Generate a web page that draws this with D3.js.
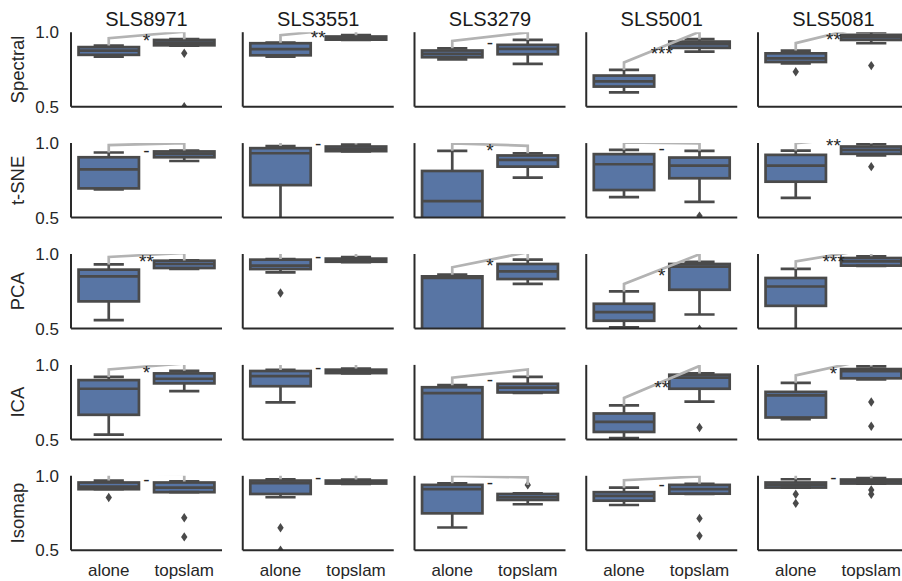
<!DOCTYPE html>
<html><head><meta charset="utf-8">
<script src="https://cdn.jsdelivr.net/npm/d3@7"></script>
<style>body{margin:0;background:#fff}svg{display:block;font-family:"Liberation Sans",Arial,sans-serif}</style>
</head><body><svg id="c" width="902" height="581"></svg>
<script>
const methods = ["Spectral", "t-SNE", "PCA", "ICA", "Isomap"];
const cells = ["SLS8971", "SLS3551", "SLS3279", "SLS5001", "SLS5081"];
const groups = ["alone", "topslam"];
const yTicks = [0.5, 1.0];

// box stats per method (rows) and cell (cols): [lowWhisker, q1, median, q3, highWhisker]
const aloneBoxes = [
  [[0.836,0.848,0.876,0.900,0.910],[0.836,0.845,0.886,0.926,0.930],[0.818,0.832,0.854,0.877,0.892],[0.596,0.635,0.670,0.709,0.747],[0.790,0.800,0.825,0.858,0.877]],
  [[0.689,0.696,0.824,0.905,0.937],[0.480,0.718,0.932,0.966,0.980],[0.350,0.420,0.610,0.813,0.948],[0.637,0.685,0.858,0.926,0.955],[0.633,0.741,0.849,0.921,0.950]],
  [[0.556,0.682,0.850,0.895,0.930],[0.877,0.899,0.922,0.962,0.966],[0.300,0.400,0.840,0.850,0.861],[0.507,0.552,0.610,0.666,0.749],[0.480,0.652,0.782,0.839,0.900]],
  [[0.532,0.665,0.840,0.898,0.919],[0.749,0.857,0.925,0.959,0.966],[0.350,0.420,0.810,0.850,0.864],[0.509,0.550,0.618,0.674,0.728],[0.636,0.647,0.796,0.819,0.880]],
  [[0.910,0.910,0.928,0.955,0.968],[0.856,0.878,0.950,0.968,0.977],[0.653,0.748,0.910,0.939,0.950],[0.804,0.833,0.865,0.890,0.920],[0.921,0.921,0.940,0.955,0.977]]
];
const topslamBoxes = [
  [[0.910,0.912,0.930,0.948,0.953],[0.948,0.950,0.962,0.971,0.980],[0.787,0.852,0.888,0.915,0.948],[0.870,0.895,0.919,0.937,0.953],[0.926,0.948,0.966,0.982,1.000]],
  [[0.880,0.905,0.928,0.944,0.950],[0.944,0.946,0.960,0.977,0.990],[0.768,0.842,0.887,0.917,0.932],[0.606,0.764,0.849,0.903,0.948],[0.917,0.928,0.955,0.977,0.995]],
  [[0.900,0.906,0.933,0.955,0.957],[0.946,0.948,0.957,0.969,0.980],[0.800,0.832,0.883,0.933,0.962],[0.594,0.760,0.915,0.933,0.948],[0.920,0.922,0.950,0.973,0.985]],
  [[0.824,0.876,0.907,0.943,0.960],[0.943,0.945,0.955,0.968,0.975],[0.812,0.815,0.848,0.873,0.919],[0.753,0.840,0.914,0.934,0.943],[0.903,0.910,0.958,0.972,0.990]],
  [[0.890,0.890,0.920,0.955,0.962],[0.946,0.948,0.958,0.968,0.975],[0.809,0.838,0.856,0.878,0.883],[0.878,0.880,0.910,0.939,0.946],[0.948,0.948,0.962,0.975,0.984]]
];
const aloneOutliers = [
  [[],[],[],[],[0.735]],
  [[],[],[],[],[]],
  [[],[0.738],[],[],[]],
  [[],[],[],[],[]],
  [[0.854],[0.651,0.500],[],[],[0.876,0.815]]
];
const topslamOutliers = [
  [[0.859,0.500],[],[],[],[0.776]],
  [[],[],[],[0.510],[0.842]],
  [[],[],[],[0.495],[]],
  [[],[],[],[0.580],[0.751,0.588]],
  [[0.718,0.590],[],[0.939],[0.714,0.597],[0.905,0.876]]
];
const sigLabels = [
  ["*","**","-","***","**"],
  ["-","-","*","-","**"],
  ["**","-","*","*","***"],
  ["*","-","-","**","*"],
  ["-","-","-","-","-"]
];

const boxFill = "rgb(88,117,164)", edge = "#4a4a4a", bracketCol = "#b3b3b3", spineCol = "#2a2a2a", textCol = "#262626";
const svg = d3.select("#c");

const colX = d3.scaleBand().domain(cells).range([71, 909]).paddingInner(20.75/171.75).paddingOuter(0);
const rowY = d3.scaleBand().domain(methods).range([32.2, 550.3]).paddingInner((110.9-74.5)/110.9).paddingOuter(0);
const pw = colX.bandwidth(), ph = rowY.bandwidth();
const gx = d3.scaleBand().domain(groups).range([0, pw]);
const y = d3.scaleLinear().domain([0.5, 1.0]).range([ph, 0]);
const bw = gx.bandwidth() * 0.8;

svg.append("defs").append("clipPath").attr("id", "clip")
  .append("rect").attr("x", 0).attr("y", 0).attr("width", pw).attr("height", ph);

const diamond = "M0,-4.7L3.2,0L0,4.7L-3.2,0Z";

methods.forEach((m, r) => {
  cells.forEach((c, k) => {
    const g = svg.append("g").attr("transform", `translate(${colX(c)},${rowY(m)})`);
    const inner = g.append("g").attr("clip-path", "url(#clip)");
    const maxes = [];
    groups.forEach((grp, gi) => {
      const s = (gi === 0 ? aloneBoxes : topslamBoxes)[r][k];
      const outs = (gi === 0 ? aloneOutliers : topslamOutliers)[r][k];
      maxes.push(Math.max(s[4], ...outs));
      const cx = gx(grp) + gx.bandwidth() / 2;
      inner.append("rect").attr("x", cx - bw/2).attr("y", y(s[3])).attr("width", bw)
        .attr("height", y(s[1]) - y(s[3])).attr("fill", boxFill).attr("stroke", edge).attr("stroke-width", 2.7);
      const ln = (x1, y1, x2, y2) => inner.append("line").attr("x1", x1).attr("y1", y1).attr("x2", x2).attr("y2", y2)
        .attr("stroke", edge).attr("stroke-width", 2.7);
      ln(cx, y(s[3]), cx, y(s[4]));
      ln(cx, y(s[1]), cx, y(s[0]));
      ln(cx - bw/4, y(s[4]), cx + bw/4, y(s[4]));
      ln(cx - bw/4, y(s[0]), cx + bw/4, y(s[0]));
      ln(cx - bw/2, y(s[2]), cx + bw/2, y(s[2]));
      outs.forEach(v => inner.append("path").attr("d", diamond)
        .attr("transform", `translate(${cx},${y(v)})`).attr("fill", edge));
    });
    // significance bracket
    const h = 0.05;
    const xa = gx("alone") + gx.bandwidth()/2, xt = gx("topslam") + gx.bandwidth()/2;
    const pts = [[xa, maxes[0]], [xa, maxes[0] + h], [xt, maxes[1] + h], [xt, maxes[1]]];
    inner.append("path").attr("d", d3.line().x(d => d[0]).y(d => y(d[1]))(pts))
      .attr("fill", "none").attr("stroke", bracketCol).attr("stroke-width", 2.7);
    g.append("text").attr("x", (xa + xt)/2).attr("y", y((maxes[0] + maxes[1])/2 + h))
      .attr("dy", "0.66em").attr("text-anchor", "middle").attr("font-size", 19).attr("fill", textCol)
      .text(sigLabels[r][k]);
    // spines
    g.append("line").attr("x1", 0).attr("x2", 0).attr("y1", 0).attr("y2", ph).attr("stroke", spineCol).attr("stroke-width", 2);
    g.append("line").attr("x1", 0).attr("x2", pw).attr("y1", ph).attr("y2", ph).attr("stroke", spineCol).attr("stroke-width", 2);
    // y ticks
    if (k === 0) {
      yTicks.forEach(t => g.append("text").attr("x", -12).attr("y", y(t)).attr("dy", "0.36em")
        .attr("text-anchor", "end").attr("font-size", 17).attr("fill", textCol).text(d3.format(".1f")(t)));
      svg.append("text").attr("transform", `translate(24,${rowY(m) + ph/2}) rotate(-90)`)
        .attr("text-anchor", "middle").attr("font-size", 18.5).attr("fill", textCol).text(m);
    }
    if (r === 0) {
      svg.append("text").attr("x", colX(c) + pw/2).attr("y", 26).attr("text-anchor", "middle")
        .attr("font-size", 20).attr("fill", "#1a1a1a").text(c);
    }
    if (r === methods.length - 1) {
      groups.forEach(grp => g.append("text").attr("x", gx(grp) + gx.bandwidth()/2).attr("y", ph + 26)
        .attr("text-anchor", "middle").attr("font-size", 17).attr("fill", textCol).text(grp));
    }
  });
});
</script></body></html>
